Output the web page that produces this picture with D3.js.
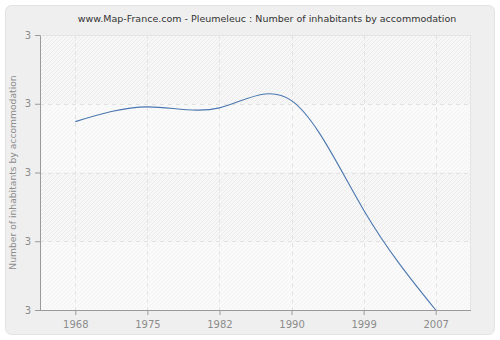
<!DOCTYPE html>
<html>
<head>
<meta charset="utf-8">
<script src="https://cdn.jsdelivr.net/npm/d3@7"></script>
<style>
  html, body { margin: 0; padding: 0; background: #ffffff; }
  svg { display: block; font-family: "DejaVu Sans", Verdana, sans-serif; }
</style>
</head>
<body>
<svg id="chart" width="500" height="340"></svg>
<script>
// Census years and average number of inhabitants per accommodation
const years = ["1968", "1975", "1982", "1990", "1999", "2007"];
const inhabitantsPerHome = [3.0148, 3.0191, 3.0188, 3.0209, 2.9891, 2.96];
const yTicks = [2.96, 2.98, 3.00, 3.02, 3.04];

const title = "www.Map-France.com - Pleumeleuc : Number of inhabitants by accommodation";
const yTitle = "Number of inhabitants by accommodation";

const W = 500, H = 340;
const plot = { left: 40, right: 471, top: 35, bottom: 310 };

const svg = d3.select("#chart");
const defs = svg.append("defs");

// Diagonal hatch used for the plot background bands
const hatch = defs.append("pattern")
  .attr("id", "hatch").attr("patternUnits", "userSpaceOnUse")
  .attr("width", 4).attr("height", 4);
hatch.append("rect").attr("width", 4).attr("height", 4).attr("fill", "#f7f7f7");
hatch.append("path").attr("d", "M-1,1 L1,-1 M0,4 L4,0 M3,5 L5,3")
  .attr("stroke", "#ebebeb").attr("stroke-width", 1);

const hatchLight = defs.append("pattern")
  .attr("id", "hatchLight").attr("patternUnits", "userSpaceOnUse")
  .attr("width", 4).attr("height", 4);
hatchLight.append("rect").attr("width", 4).attr("height", 4).attr("fill", "#fafafa");
hatchLight.append("path").attr("d", "M-1,1 L1,-1 M0,4 L4,0 M3,5 L5,3")
  .attr("stroke", "#f3f3f3").attr("stroke-width", 1);

// Outer panel
svg.append("rect")
  .attr("x", 5.5).attr("y", 5.5).attr("width", W - 11).attr("height", H - 11)
  .attr("rx", 6).attr("ry", 6)
  .attr("fill", "#efefef").attr("stroke", "#e2e2e2").attr("stroke-width", 1);

const x = d3.scalePoint().domain(years).range([plot.left, plot.right]).padding(0.49);
const y = d3.scaleLinear().domain([2.96, 3.04]).range([plot.bottom, plot.top]);

// Plot background: alternating hatched bands between y ticks
const bands = d3.pairs(yTicks);
svg.append("g").selectAll("rect").data(bands).join("rect")
  .attr("x", plot.left).attr("width", plot.right - plot.left)
  .attr("y", d => y(d[1])).attr("height", d => y(d[0]) - y(d[1]))
  .attr("fill", (d, i) => (bands.length - 1 - i) % 2 === 0 ? "url(#hatch)" : "url(#hatchLight)");

// Plot frame (top and right edges)
svg.append("path")
  .attr("d", `M${plot.left},${plot.top + 0.5}H${plot.right - 0.5}V${plot.bottom}`)
  .attr("fill", "none").attr("stroke", "#e4e4e4");

// Gridlines
const grid = svg.append("g").attr("stroke", "#e2e2e2").attr("stroke-dasharray", "4,4");
grid.selectAll("line.v").data(years).join("line")
  .attr("x1", d => Math.round(x(d)) + 0.5).attr("x2", d => Math.round(x(d)) + 0.5)
  .attr("y1", plot.top).attr("y2", plot.bottom);
grid.selectAll("line.h").data(yTicks.slice(1, -1)).join("line")
  .attr("x1", plot.left).attr("x2", plot.right)
  .attr("y1", d => Math.round(y(d)) + 0.5).attr("y2", d => Math.round(y(d)) + 0.5);

// Data line
const line = d3.line()
  .x((d, i) => x(years[i]))
  .y(d => y(d))
  .curve(d3.curveNatural);
svg.append("path")
  .datum(inhabitantsPerHome)
  .attr("d", line)
  .attr("fill", "none")
  .attr("stroke", "#4a77b0")
  .attr("stroke-width", 1.1);

// Axes
const xAxis = svg.append("g")
  .attr("transform", `translate(0,${plot.bottom})`)
  .call(d3.axisBottom(x).tickSize(5).tickSizeOuter(0).tickPadding(6));
xAxis.select(".domain").attr("d", `M${plot.left - 5},0.5H${plot.right}`);

const yAxis = svg.append("g")
  .attr("transform", `translate(${plot.left},0)`)
  .call(d3.axisLeft(y).tickValues(yTicks).tickFormat(d3.format(".0f")).tickSize(5).tickSizeOuter(0).tickPadding(4));

svg.selectAll(".domain").attr("stroke", "#9a9a9a");
svg.selectAll(".tick line").attr("stroke", "#9a9a9a");
svg.selectAll(".tick text")
  .attr("fill", "#8c8c8c")
  .style("font-family", "\"DejaVu Sans\", Verdana, sans-serif")
  .style("font-size", "10px");

// Titles
svg.append("text")
  .attr("x", 267).attr("y", 22)
  .attr("text-anchor", "middle")
  .attr("fill", "#333333")
  .style("font-size", "9.5px")
  .text(title);

svg.append("text")
  .attr("transform", `translate(16,${(plot.top + plot.bottom) / 2}) rotate(-90)`)
  .attr("text-anchor", "middle")
  .attr("fill", "#8c8c8c")
  .style("font-size", "9.2px")
  .text(yTitle);
</script>
</body>
</html>
